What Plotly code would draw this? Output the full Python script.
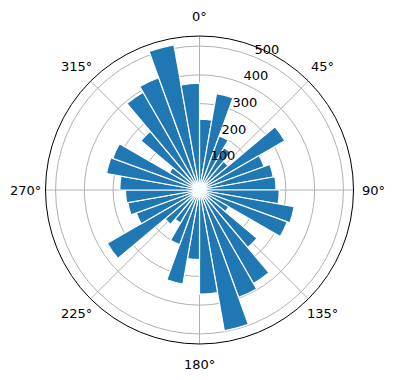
import math
import plotly.graph_objects as go

# bar centres (degrees, clockwise from north) and radial values
theta_deg = [5, 15, 25, 35, 45, 55, 65, 75, 85,
             95, 105, 115, 125, 135, 145, 155, 165, 175,
             185, 195, 205, 215, 225, 235, 245, 255, 265,
             275, 285, 295, 305, 315, 325, 335, 345, 355]
radius = [246, 340, 200, 170, 130, 342, 239, 260, 266,
          277, 334, 324, 117, 261, 375, 397, 497, 362,
          242, 332, 202, 132, 156, 370, 234, 253, 257,
          277, 328, 321, 121, 266, 392, 415, 512, 371]
bar_width = [10] * len(theta_deg)

angle_ticks = [0, 45, 90, 135, 180, 225, 270, 315]
angle_labels = ["0°", "45°", "90°", "135°", "180°", "225°", "270°", "315°"]
r_ticks = [100, 200, 300, 400, 500]
r_labels = ["100", "200", "300", "400", "500"]
r_max = 535
r_label_angle = 22.5

W, H = 396, 380
dom_x = [45.5 / W, 353.5 / W]
dom_y = [36 / H, 344 / H]
cx = (dom_x[0] + dom_x[1]) / 2
cy = (dom_y[0] + dom_y[1]) / 2
label_ring_px = 174  # distance of angular labels from the centre

fig = go.Figure()
fig.add_trace(
    go.Barpolar(
        r=radius,
        theta=theta_deg,
        width=bar_width,
        marker=dict(color="#1f77b4", line=dict(color="white", width=1.2)),
        hoverinfo="r+theta",
    )
)
# radial tick labels, placed like matplotlib (at 22.5°, lower-left anchored)
fig.add_trace(
    go.Scatterpolar(
        r=r_ticks,
        theta=[r_label_angle] * len(r_ticks),
        mode="text",
        text=r_labels,
        textposition="top right",
        textfont=dict(family="DejaVu Sans", size=13, color="black"),
        hoverinfo="skip",
        cliponaxis=False,
    )
)

# angular tick labels centred on a ring just outside the circle
annotations = []
for a, lab in zip(angle_ticks, angle_labels):
    rad = math.radians(a)
    annotations.append(dict(
        x=cx + label_ring_px * math.sin(rad) / W,
        y=cy + label_ring_px * math.cos(rad) / H,
        xref="paper", yref="paper",
        text=lab, showarrow=False,
        xanchor="center", yanchor="middle",
        font=dict(family="DejaVu Sans", size=13, color="black"),
    ))

fig.update_layout(
    width=W,
    height=H,
    margin=dict(l=0, r=0, t=0, b=0),
    paper_bgcolor="white",
    showlegend=False,
    font=dict(family="DejaVu Sans", size=13, color="black"),
    annotations=annotations,
    polar=dict(
        domain=dict(x=dom_x, y=dom_y),
        bgcolor="white",
        bargap=0,
        angularaxis=dict(
            rotation=90,
            direction="clockwise",
            tickmode="array",
            tickvals=angle_ticks,
            showticklabels=False,
            showline=True,
            linecolor="black",
            linewidth=1,
            gridcolor="#b0b0b0",
            gridwidth=1,
            ticks="",
            layer="above traces",
        ),
        radialaxis=dict(
            range=[0, r_max],
            tickmode="array",
            tickvals=r_ticks,
            showticklabels=False,
            showline=False,
            gridcolor="#b0b0b0",
            gridwidth=1,
            ticks="",
            layer="above traces",
        ),
    ),
)

fig.write_html("out.html")
